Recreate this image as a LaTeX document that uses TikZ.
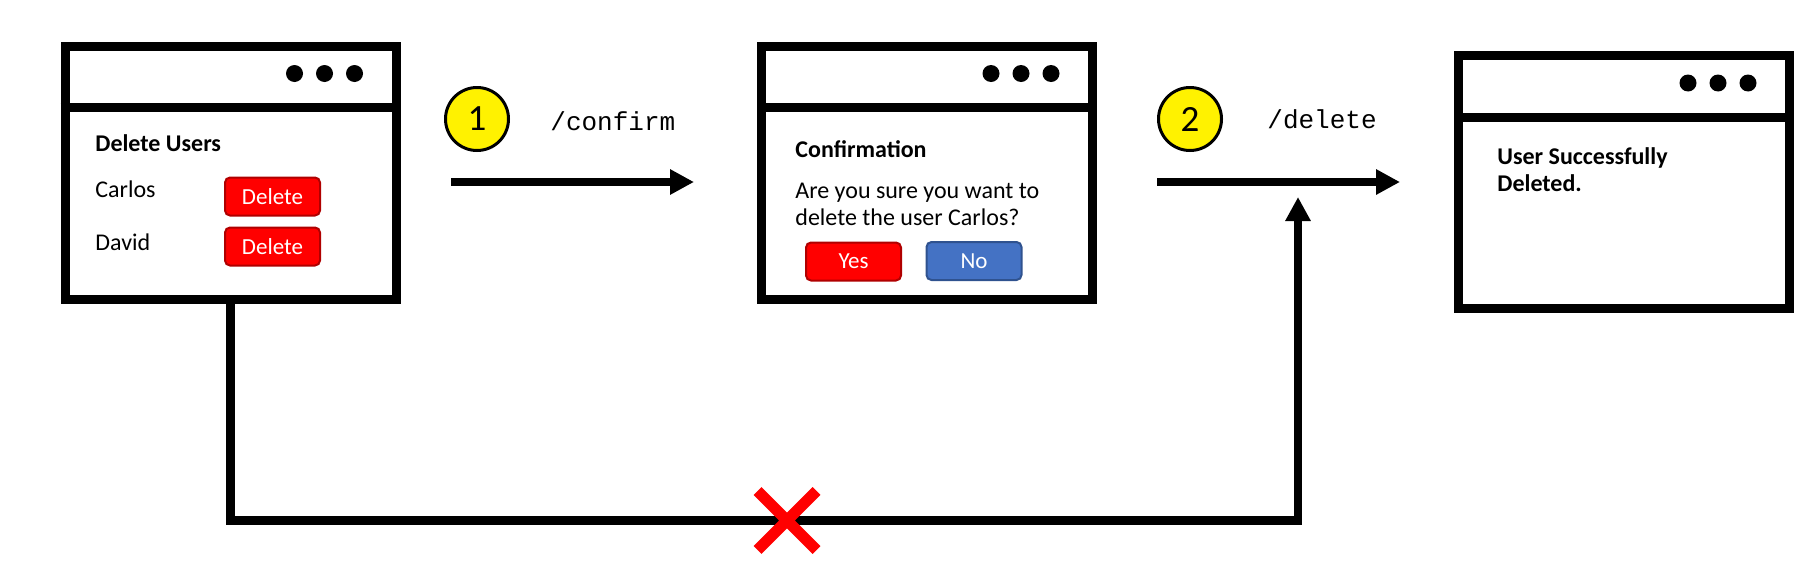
\documentclass[tikz,border=0pt]{standalone}
\usepackage{fontspec}
\setmainfont{Carlito}
\setmonofont{Liberation Mono}
\usetikzlibrary{arrows.meta,calc,positioning,shapes.misc}
\definecolor{btnred}{HTML}{FF0000}
\definecolor{btnredline}{HTML}{B00000}
\definecolor{btnblue}{HTML}{4472C4}
\definecolor{btnblueline}{HTML}{2F528F}

\begin{document}
\begin{tikzpicture}[x=0.5pt,y=-0.5pt]
    \tikzstyle{window} = [draw,line width=4.5pt,minimum width=165.5pt,minimum height=126.5pt,inner sep=0pt]
    \tikzstyle{screentext} = [anchor=west,inner sep=0pt,align=left,font=\fontsize{12}{13.5}\selectfont]
    \tikzstyle{screentitle} = [screentext,font=\bfseries\fontsize{12}{13.5}\selectfont]
    \tikzstyle{button} = [draw,line width=1pt,rounded corners=2.5pt,minimum width=47.5pt,minimum height=19pt,inner sep=0pt,text=white,font=\fontsize{11.5}{13}\selectfont]
    \tikzstyle{stepmark} = [draw,circle,line width=1.5pt,fill=yellow,minimum size=31.5pt,inner sep=0pt,font=\fontsize{18.5}{20}\selectfont]
    \tikzstyle{route} = [anchor=west,inner sep=0pt,font=\ttfamily\fontsize{13}{15}\selectfont]
    \tikzstyle{flow} = [line width=4.2pt,-{Triangle[length=12pt,width=12pt]}]

    \useasboundingbox (0,0) rectangle (1819,568);

    % the three browser windows
    \node[window] (w1) at (230.5,172.5) {};
    \node[window] (w2) at (927,172.5) {};
    \node[window] (w3) at (1624,182) {};

    \foreach \w in {w1,w2,w3} {
        \draw[line width=4.5pt] ([yshift=-33pt]\w.north west) -- ([yshift=-33pt]\w.north east);
        \foreach \d in {23,38,53}
            \fill ([xshift=-\d pt,yshift=-16pt]\w.north east) circle (4.25pt);
    }

    % window 1
    \node[screentitle] (w1-title) at (95,143) {Delete Users};
    \node[screentext] (carlos) at (95,189) {Carlos};
    \node[screentext] (david) at (95,242) {David};
    \node[button,fill=btnred,draw=btnredline] (del-carlos) at (272.5,196.5) {Delete};
    \node[button,fill=btnred,draw=btnredline] (del-david) at (272.5,246.5) {Delete};

    % window 2
    \node[screentitle] (w2-title) at (795,149) {Confirmation};
    \node[screentext] (question) at (795,204.5) {Are you sure you want to\\delete the user Carlos?};
    \node[button,fill=btnred,draw=btnredline] (yes) at (853.5,261.5) {Yes};
    \node[button,fill=btnblue,draw=btnblueline] (no) at (974,261) {No};

    % window 3
    \node[screentitle] (done) at (1497,169.5) {User Successfully\\Deleted.};

    % steps
    \node[stepmark] (s1) at (477,119) {1};
    \node[route] (confirm) at (550,121) {/confirm};
    \node[stepmark] (s2) at (1190,119) {2};
    \node[route] (delete) at (1267,119) {/delete};

    \coordinate (a1-start) at (451,182);
    \coordinate (a1-end) at (694,182);
    \coordinate (a2-start) at (1157,182);
    \coordinate (a2-end) at (1400,182);
    \draw[flow] (a1-start) -- (a1-end);
    \draw[flow] (a2-start) -- (a2-end);

    % direct route, blocked
    \coordinate (skip-corner) at (1298,520.5);
    \coordinate (skip-tip) at (1298,197);
    \draw[flow] (w1.south) |- (skip-corner) -- (skip-tip);
    \node[cross out,draw=red,line width=5.5pt,minimum size=24pt,inner sep=0pt] (blocked) at (787,520.5) {};
\end{tikzpicture}
\end{document}
